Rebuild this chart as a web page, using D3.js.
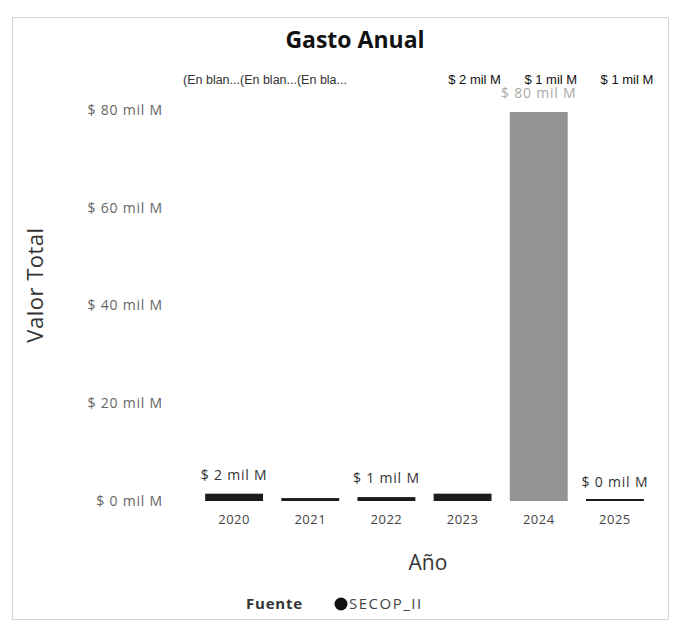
<!DOCTYPE html>
<html>
<head>
<meta charset="utf-8">
<script src="https://cdn.jsdelivr.net/npm/d3@7"></script>
<style>
  body { margin: 0; background: #fff; }
  svg { font-family: "Open Sans", "Liberation Sans", sans-serif; }
</style>
</head>
<body>
<div id="root"></div>
<script>
const years = ["2020", "2021", "2022", "2023", "2024", "2025"];
// valor total en mil millones
const values = [1.5, 0.6, 0.8, 1.5, 79.6, 0.05];
const showLabel = [true, false, true, false, true, true];
const yTicks = [0, 20, 40, 60, 80];
const topLeftLabels = ["(En blan...", "(En blan...", "(En bla..."];
const topRightYears = ["2023", "2024", "2025"];
const topRightLabels = ["$ 2 mil M", "$ 1 mil M", "$ 1 mil M"];
const legendItems = ["SECOP_II"];

const data = years.map((y, i) => ({ year: y, value: values[i], label: showLabel[i] }));

const W = 678, H = 627;
const fmt = v => `$ ${Math.round(v)} mil M`;

const svg = d3.select("#root").append("svg")
  .attr("width", W)
  .attr("height", H);

// card border
svg.append("rect")
  .attr("x", 12.5).attr("y", 17.5)
  .attr("width", 656).attr("height", 602)
  .attr("fill", "#fff")
  .attr("stroke", "#d6d6d6");

const xScale = d3.scaleBand()
  .domain(years)
  .range([196, 653])
  .paddingInner(0.24)
  .paddingOuter(0.12);

const yScale = d3.scaleLinear()
  .domain([0, 80])
  .range([501, 110]);

svg.append("text")
  .attr("x", 355).attr("y", 48)
  .attr("text-anchor", "middle")
  .attr("font-size", 23).attr("font-weight", "bold")
  .attr("fill", "#111")
  .text("Gasto Anual");

// y axis (labels only)
const yAxis = d3.axisLeft(yScale)
  .tickValues(yTicks)
  .tickSize(0)
  .tickPadding(0)
  .tickFormat(fmt);

const gy = svg.append("g")
  .attr("transform", "translate(163,0)")
  .call(yAxis);
gy.select(".domain").remove();
gy.selectAll("text")
  .attr("font-size", 14)
  .attr("letter-spacing", 0.8)
  .attr("fill", "#666")
  .attr("font-family", "Open Sans, sans-serif");

svg.append("text")
  .attr("transform", "translate(43,285) rotate(-90)")
  .attr("text-anchor", "middle")
  .attr("font-size", 22)
  .attr("letter-spacing", 0.5)
  .attr("fill", "#333")
  .text("Valor Total");

// x axis
const xAxis = d3.axisBottom(xScale).tickSize(0).tickPadding(14);
const gx = svg.append("g")
  .attr("transform", `translate(0, ${yScale(0)})`)
  .call(xAxis);
gx.select(".domain").remove();
gx.selectAll("text")
  .attr("font-size", 13)
  .attr("letter-spacing", 0.5)
  .attr("fill", "#444")
  .attr("font-family", "Open Sans, sans-serif");

svg.append("text")
  .attr("x", 428).attr("y", 570)
  .attr("text-anchor", "middle")
  .attr("font-size", 21)
  .attr("fill", "#333")
  .text("Año");

const barColor = d => d.value > 10 ? "#939393" : "#1c1c1c";

svg.selectAll(".bar").data(data).enter().append("rect")
  .attr("class", "bar")
  .attr("x", d => xScale(d.year))
  .attr("width", xScale.bandwidth())
  .attr("y", d => Math.min(yScale(d.value), yScale(0) - 2))
  .attr("height", d => Math.max(yScale(0) - yScale(d.value), 2))
  .attr("fill", barColor);

svg.selectAll(".lbl").data(data.filter(d => d.label)).enter().append("text")
  .attr("class", "lbl")
  .attr("x", d => xScale(d.year) + xScale.bandwidth() / 2)
  .attr("y", d => yScale(d.value) - 14)
  .attr("text-anchor", "middle")
  .attr("font-size", 14)
  .attr("letter-spacing", 0.8)
  .attr("fill", d => d.value > 10 ? "#aaa" : "#333")
  .text(d => fmt(d.value));

// overlapping label row at the top
svg.append("text")
  .attr("x", xScale.range()[0] - 13).attr("y", 84)
  .attr("font-size", 12.5)
  .attr("fill", "#333")
  .attr("font-family", "Liberation Sans, Arial, sans-serif")
  .text(topLeftLabels.join(""));

svg.selectAll(".toplbl").data(topRightLabels).enter().append("text")
  .attr("class", "toplbl")
  .attr("x", (d, i) => xScale(topRightYears[i]) + xScale.bandwidth() / 2 + 12)
  .attr("y", 84)
  .attr("text-anchor", "middle")
  .attr("font-size", 13)
  .attr("fill", "#111")
  .attr("font-family", "Liberation Sans, Arial, sans-serif")
  .text(d => d);

// legend
const lg = svg.append("g").attr("transform", "translate(246,609)");
lg.append("text")
  .attr("font-size", 15).attr("font-weight", "bold")
  .attr("letter-spacing", 0.8)
  .attr("fill", "#333")
  .text("Fuente");
legendItems.forEach((name, i) => {
  lg.append("circle").attr("cx", 95).attr("cy", -5).attr("r", 6.5).attr("fill", "#111");
  lg.append("text")
    .attr("x", 103)
    .attr("font-size", 15)
    .attr("letter-spacing", 1.5)
    .attr("fill", "#444")
    .text(name);
});
</script>
</body>
</html>
